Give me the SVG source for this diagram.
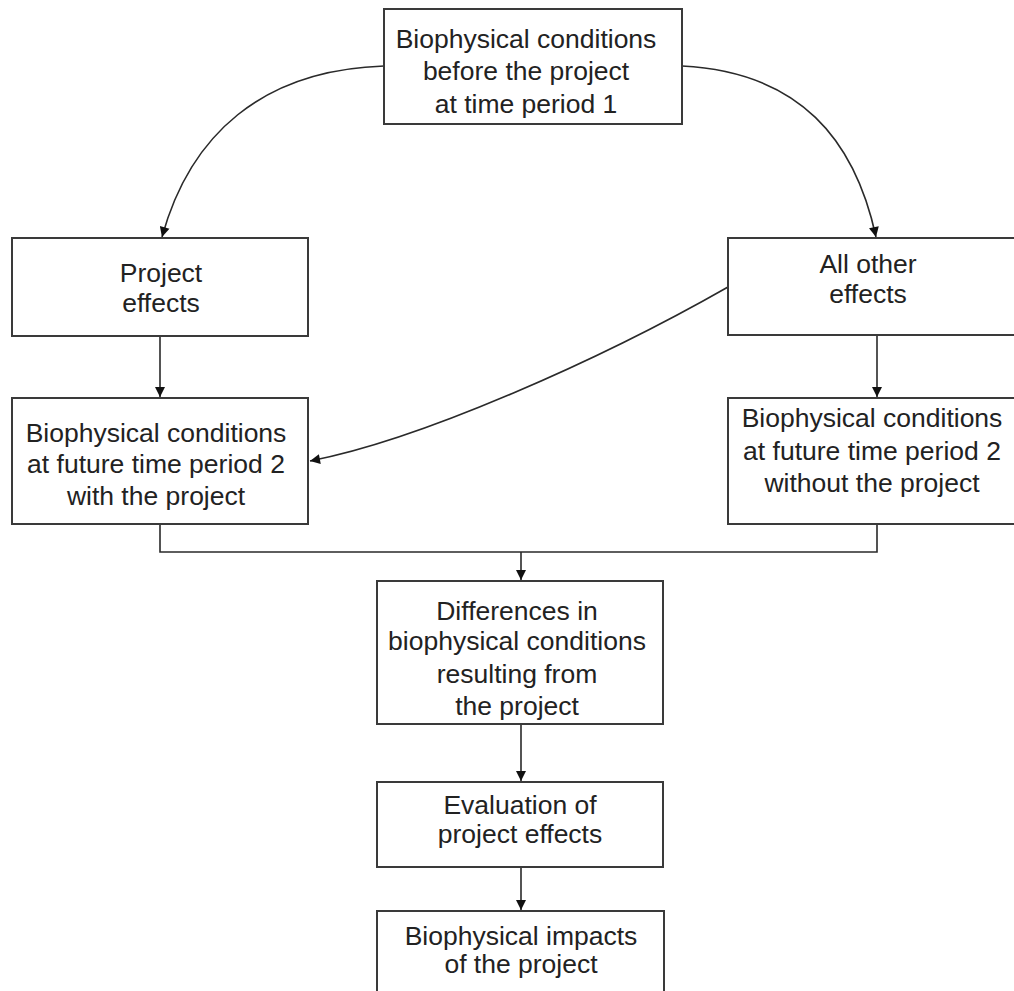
<svg xmlns="http://www.w3.org/2000/svg" width="1014" height="991" viewBox="0 0 1014 991">
<style>
.box{fill:#ffffff;stroke:#3a3a3a;stroke-width:2}
.t{font-family:"Liberation Sans",Arial,Helvetica,sans-serif;font-size:26.5px;fill:#222222;text-anchor:middle}
.c{fill:none;stroke:#2a2a2a;stroke-width:1.6}
</style>
<defs>
<marker id="ah" viewBox="0 0 10 10" refX="10" refY="5" markerWidth="11" markerHeight="10" markerUnits="userSpaceOnUse" orient="auto">
<path d="M0,0 L10,5 L0,10 z" fill="#111111"/>
</marker>
</defs>
<rect width="1014" height="991" fill="#ffffff"/>
<g id="connectors">
<path class="c" d="M384,66 C262,70 190,135 162,237" marker-end="url(#ah)"/>
<path class="c" d="M682,66 C800,72 855,140 876,237" marker-end="url(#ah)"/>
<path class="c" d="M728,287 C600,360 420,440 310,461" marker-end="url(#ah)"/>
<path class="c" d="M160,336 L160,397" marker-end="url(#ah)"/>
<path class="c" d="M877,335 L877,397" marker-end="url(#ah)"/>
<path class="c" d="M160,524 L160,552 L877,552 L877,524"/>
<path class="c" d="M521,552 L521,580" marker-end="url(#ah)"/>
<path class="c" d="M521,724 L521,781" marker-end="url(#ah)"/>
<path class="c" d="M521,867 L521,910" marker-end="url(#ah)"/>
</g>
<g id="n-before">
<rect class="box" x="384" y="9" width="298" height="115"/>
<text class="t" x="526" y="48">Biophysical conditions</text>
<text class="t" x="526" y="80">before the project</text>
<text class="t" x="526" y="113">at time period 1</text>
</g>
<g id="n-project-effects">
<rect class="box" x="12" y="238" width="296" height="98"/>
<text class="t" x="161" y="282">Project</text>
<text class="t" x="161" y="312">effects</text>
</g>
<g id="n-other-effects">
<rect class="box" x="728" y="238" width="300" height="97"/>
<text class="t" x="868" y="273">All other</text>
<text class="t" x="868" y="303">effects</text>
</g>
<g id="n-with">
<rect class="box" x="12" y="398" width="296" height="126"/>
<text class="t" x="156" y="442">Biophysical conditions</text>
<text class="t" x="156" y="473">at future time period 2</text>
<text class="t" x="156" y="505">with the project</text>
</g>
<g id="n-without">
<rect class="box" x="728" y="398" width="300" height="126"/>
<text class="t" x="872" y="427">Biophysical conditions</text>
<text class="t" x="872" y="460">at future time period 2</text>
<text class="t" x="872" y="492">without the project</text>
</g>
<g id="n-differences">
<rect class="box" x="377" y="581" width="286" height="143"/>
<text class="t" x="517" y="620">Differences in</text>
<text class="t" x="517" y="650">biophysical conditions</text>
<text class="t" x="517" y="683">resulting from</text>
<text class="t" x="517" y="715">the project</text>
</g>
<g id="n-evaluation">
<rect class="box" x="377" y="782" width="286" height="85"/>
<text class="t" x="520" y="814">Evaluation of</text>
<text class="t" x="520" y="843">project effects</text>
</g>
<g id="n-impacts">
<rect class="box" x="377" y="911" width="287" height="100"/>
<text class="t" x="521" y="945">Biophysical impacts</text>
<text class="t" x="521" y="973">of the project</text>
</g>
</svg>
